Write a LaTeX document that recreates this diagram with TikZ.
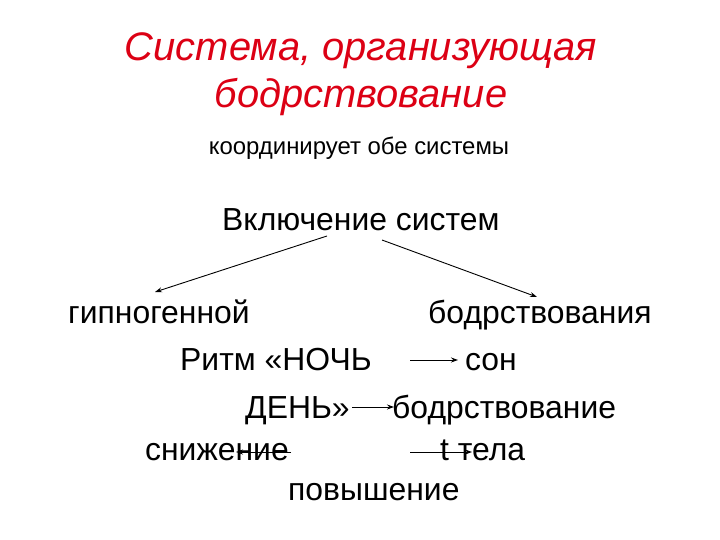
\documentclass[tikz,border=0pt]{standalone}
\usepackage{fontspec}
\setmainfont{Liberation Sans}
\usetikzlibrary{arrows.meta}
\definecolor{titlered}{RGB}{220,0,20}
\begin{document}
\begin{tikzpicture}[x=1bp,y=-1bp,
  txt/.style={inner sep=0pt,anchor=base west,font=\fontsize{32}{34}\selectfont},
  ttl/.style={anchor=base,inner sep=0pt,text=titlered,font=\fontsize{40}{42}\selectfont\itshape},
  arr/.style={-{Stealth[length=7bp,width=5bp]},line width=0.9bp}]
\useasboundingbox (0,0) rectangle (720,540);
\node[ttl] (t1) at (361,61) {Система, организующая};
\node[ttl] (t2) at (361,108) {бодрствование};
\node[anchor=base,inner sep=0pt,font=\fontsize{24}{26}\selectfont] (k) at (359,155) {координирует обе системы};
\node[txt] (v) at (222,231) {Включение систем};
\node[txt] (g) at (68,323) {гипногенной};
\node[txt] (b) at (428,323) {бодрствования};
\node[txt] (r) at (180,370) {Ритм «НОЧЬ};
\node[txt] (son) at (465,370) {сон};
\node[txt] (d) at (245,418) {ДЕНЬ»};
\node[txt] (bd) at (392,418) {бодрствование};
\node[txt] (s) at (145,460) {снижение};
\node[txt] (tt) at (440,460) {t тела};
\node[txt] (p) at (288,500) {повышение};
\coordinate (vl) at (327,236);
\coordinate (vr) at (382,240);
\coordinate (gl) at (155,292);
\coordinate (br) at (537,297);
\draw[arr] (vl) -- (gl);
\draw[arr] (vr) -- (br);
\coordinate (a1) at (410,360);
\coordinate (a2) at (458,360);
\draw[arr] (a1) -- (a2);
\coordinate (a3) at (352,407);
\coordinate (a4) at (394,407);
\draw[arr] (a3) -- (a4);
\coordinate (a5) at (291,452);
\coordinate (a6) at (236,452);
\draw[arr] (a5) -- (a6);
\coordinate (a7) at (410,452);
\coordinate (a8) at (472,452);
\draw[arr] (a7) -- (a8);
\end{tikzpicture}
\end{document}
